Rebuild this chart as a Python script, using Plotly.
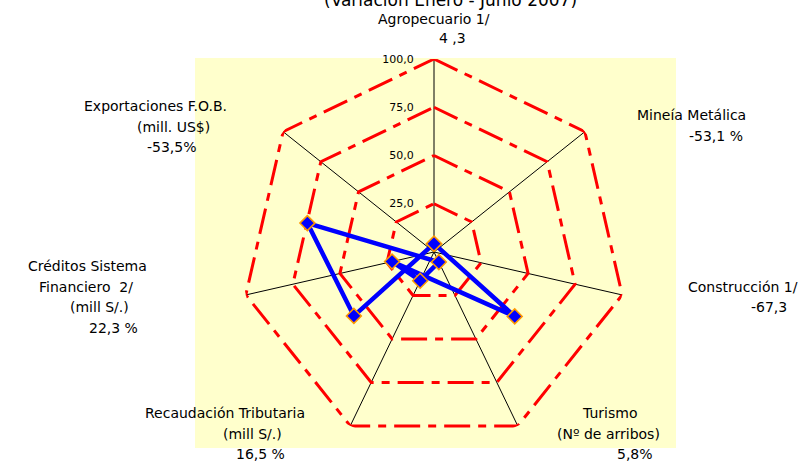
import plotly.graph_objects as go

# ---------------- data ----------------
categories = ["Agropecuario 1/", "Mineía Metálica", "Construcción 1/", "Turismo",
              "Recaudación Tributaria", "Créditos Sistema", "Exportaciones F.O.B."]
subtitles = [[], [], [], ["(Nº de arribos)"], ["(mill S/.)"],
             ["Financiero  2/", "(mill S/.)"], ["(mill. US$)"]]
values = [4.3, -53.1, -67.3, 5.8, 16.5, 22.3, -53.5]
value_labels = ["4 ,3", "-53,1 %", "-67,3", "5,8%", "16,5 %", "22,3 %", "-53,5%"]
radial_ticks = [25, 50, 75, 100]
title_text = "(Variación Enero - Junio 2007)"

W, H = 808, 461
FONT = "DejaVu Sans"

n = len(categories)
angles = [i * 360.0 / n for i in range(n)]

# negative values are drawn through the centre, in the opposite direction
r_plot = [abs(v) for v in values]
t_plot = [(a + 180.0) % 360 if v < 0 else a for a, v in zip(angles, values)]
r_plot.append(r_plot[0])
t_plot.append(t_plot[0])

fig = go.Figure()

# heptagonal grid rings
for k, tv in enumerate(radial_ticks):
    fig.add_trace(go.Scatterpolar(
        r=[tv] * (n + 1), theta=angles + [angles[0]], mode="lines",
        line=dict(color="#FF0000", width=3, dash="26px,8px,8px,8px"),
        hoverinfo="skip", showlegend=False))

# data series
fig.add_trace(go.Scatterpolar(
    r=r_plot, theta=t_plot, mode="lines+markers",
    line=dict(color="#0000FF", width=4.5),
    marker=dict(symbol="diamond", size=11.5, color="#0000FF",
                line=dict(color="#FF9900", width=1.5)),
    showlegend=False))

# polar placement (centre 434,252 px ; radius 193 px)
cx, cy, R = 434, 252, 193
fig.update_layout(
    width=W, height=H,
    margin=dict(l=0, r=0, t=0, b=0),
    paper_bgcolor="white",
    separators=",.",
    font=dict(family=FONT, size=14, color="#000000"),
    polar=dict(
        domain=dict(x=[(cx - R) / W, (cx + R) / W],
                    y=[(H - cy - R) / H, (H - cy + R) / H]),
        bgcolor="rgba(0,0,0,0)",
        radialaxis=dict(range=[0, 100], angle=90, tickvals=radial_ticks,
                        tickformat=".1f", showgrid=False, showline=False,
                        side="counterclockwise", ticks="outside", ticklen=16,
                        tickcolor="rgba(0,0,0,0)", tickangle=90,
                        tickfont=dict(family=FONT, size=11, color="#000000")),
        angularaxis=dict(type="linear", thetaunit="degrees", rotation=90,
                         direction="clockwise", tickvals=angles,
                         showticklabels=False, ticks="", showline=False,
                         gridcolor="#000000", gridwidth=1),
    ),
    shapes=[dict(type="rect", xref="paper", yref="paper", layer="below",
                 x0=195 / W, x1=676 / W, y0=1 - 448 / H, y1=1 - 58 / H,
                 fillcolor="#FFFFCC", line=dict(width=0))],
)

# axis labels (one annotation per text line)
label_pos = [
    [(434, 19), (452, 38)],
    [(691, 115), (716, 136)],
    [(743, 287), (769, 307)],
    [(609, 413), (608, 434), (635, 454)],
    [(225, 413), (252, 434), (260, 454)],
    [(87, 266), (86, 287), (99, 307), (114, 328)],
    [(155, 106), (173, 127), (172, 147)],
]
annotations = []
for i in range(n):
    lines = [categories[i]] + subtitles[i] + [value_labels[i]]
    for txt, (px, py) in zip(lines, label_pos[i]):
        annotations.append(dict(text=txt, x=px / W, y=1 - py / H, xref="paper",
                                yref="paper", xanchor="center", yanchor="middle",
                                showarrow=False, font=dict(family=FONT, size=14)))
annotations.append(dict(text=title_text, x=450 / W, y=1 - 0 / H, xref="paper",
                        yref="paper", xanchor="center", yanchor="middle",
                        showarrow=False, font=dict(family=FONT, size=17)))
fig.update_layout(annotations=annotations)

fig.write_html("out.html",
               config={"displayModeBar": False},
               post_script="document.body.style.margin='0';"
                           "document.body.style.overflow='hidden';")
